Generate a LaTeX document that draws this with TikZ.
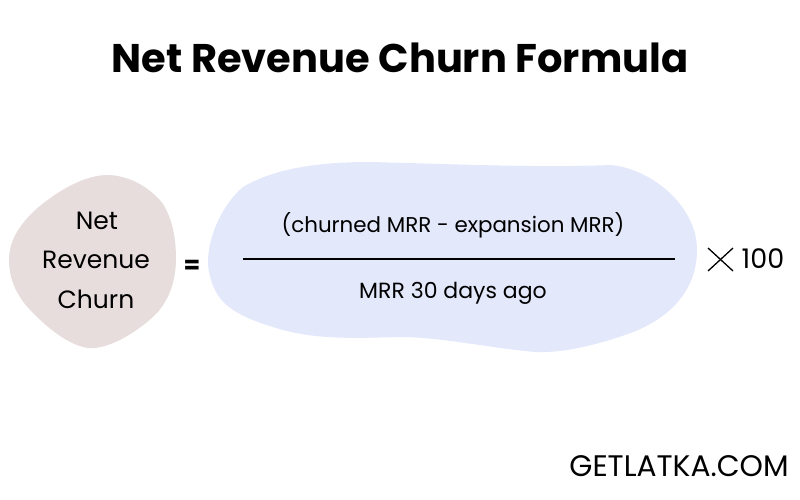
\documentclass[tikz,border=0pt]{standalone}
\usepackage{fontspec}
\setmainfont{Poppins}
\definecolor{blobpink}{HTML}{E8DDDD}
\definecolor{blobblue}{HTML}{E3E8FB}
\begin{document}
\begin{tikzpicture}[x=1pt,y=-1pt,
  lbl/.style={inner sep=0pt,font=\fontsize{21.4}{26}\selectfont},
  side/.style={inner sep=0pt,font=\fontsize{25}{30}\selectfont}]
  \useasboundingbox (0,0) rectangle (800,500);
  \fill[blobpink] (9,260) .. controls (9,240) and (20,225) .. (33,212) .. controls (55,192) and (85,174) .. (110,175) .. controls (135,177) and (150,190) .. (160,200) .. controls (172,215) and (176,238) .. (176,258) .. controls (176,280) and (170,298) .. (157,313) .. controls (140,330) and (110,350) .. (88,348) .. controls (68,345) and (48,328) .. (33,313) .. controls (17,297) and (9,280) .. (9,260) -- cycle;
  \fill[blobblue] (208,260) .. controls (209,235) and (222,205) .. (243,187) .. controls (275,168) and (320,162) .. (370,162) .. controls (450,164) and (540,168) .. (610,165) .. controls (650,168) and (697,205) .. (697,250) .. controls (697,290) and (670,320) .. (625,335) .. controls (590,347) and (560,353) .. (535,352) .. controls (490,348) and (440,337) .. (400,337) .. controls (360,338) and (320,340) .. (283,330) .. controls (255,322) and (225,312) .. (215,290) .. controls (210,280) and (208,270) .. (208,260) -- cycle;
  \path (400,58) node[inner sep=0pt,font=\fontsize{40}{48}\selectfont\bfseries] (title) {Net Revenue Churn Formula}
    (97,221) node[side] (net) {Net}
    (96,260) node[side] (rev) {Revenue}
    (96,299) node[side] (churn) {Churn}
    (192,267) node[side,font=\fontsize{24}{28}\selectfont\bfseries] (eq) {=}
    (453,225) node[lbl] (top) {(churned MRR - expansion MRR)}
    (453,293) node[lbl,font=\fontsize{22}{26}\selectfont] (bot) {MRR 30 days ago}
    (763,259) node[side,font=\fontsize{27}{32}\selectfont] (hund) {100}
    (679,466) node[inner sep=0pt,font=\fontsize{29.7}{35}\selectfont] (brand) {GETLATKA.COM};
  \coordinate (barl) at (243,259);
  \coordinate (barr) at (675,259);
  \draw[line width=1.5pt] (barl) -- (barr);
  \coordinate (xa) at (708,248);
  \coordinate (xb) at (733,271);
  \coordinate (xc) at (708,271);
  \coordinate (xd) at (733,248);
  \draw[line width=1.3pt] (xa) -- (xb);
  \draw[line width=1.3pt] (xc) -- (xd);
\end{tikzpicture}
\end{document}
